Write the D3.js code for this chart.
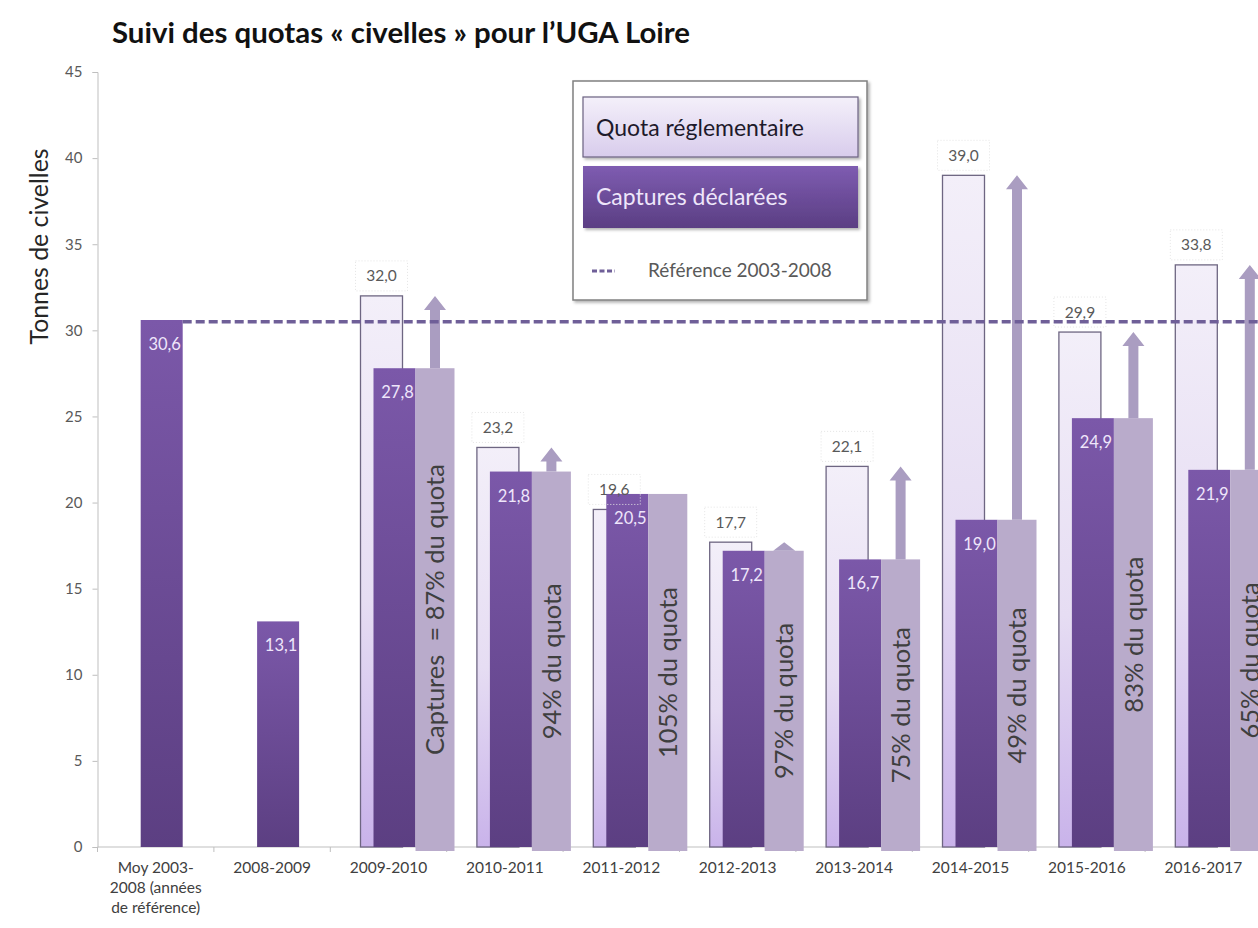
<!DOCTYPE html>
<html>
<head>
<meta charset="utf-8">
<script src="https://cdn.jsdelivr.net/npm/d3@7"></script>
<style>
  body { margin: 0; background: #ffffff; }
  svg { display: block; }
</style>
</head>
<body>
<svg id="chart" width="1258" height="928"></svg>
<script>
// Seasons shown on the x axis (the first one is the 2003-2008 reference average)
const categories = ["Moy 2003-2008 (années de référence)", "2008-2009", "2009-2010", "2010-2011",
  "2011-2012", "2012-2013", "2013-2014", "2014-2015", "2015-2016", "2016-2017"];
const categoryLines = [["Moy 2003-", "2008 (années", "de référence)"], ["2008-2009"], ["2009-2010"],
  ["2010-2011"], ["2011-2012"], ["2012-2013"], ["2013-2014"], ["2014-2015"], ["2015-2016"], ["2016-2017"]];

// Tonnes of glass eels
const quota = [null, null, 32.0, 23.2, 19.6, 17.7, 22.1, 39.0, 29.9, 33.8];
const captures = [30.6, 13.1, 27.8, 21.8, 20.5, 17.2, 16.7, 19.0, 24.9, 21.9];
const shareLabels = [null, null, "Captures  = 87% du quota", "94% du quota", "105% du quota",
  "97% du quota", "75% du quota", "49% du quota", "83% du quota", "65% du quota"];
const referenceLevel = 30.5;
const yTicks = [0, 5, 10, 15, 20, 25, 30, 35, 40, 45];

const fmt = v => v.toFixed(1).replace(".", ",");
const FONT = "Lato, 'Open Sans', sans-serif";

const svg = d3.select("#chart");
const plotLeft = 97.5, plotBottom = 847, plotTop = 72;
const step = 116.4;

const x = d3.scaleBand().domain(categories).range([plotLeft, plotLeft + step * categories.length]).padding(0);
const y = d3.scaleLinear().domain([0, 45]).range([plotBottom, plotTop]);

const barW = 42;
const quotaOffset = -7, captureOffset = 6;
const shadeW = 39;

// ---------- gradients & filters ----------
const defs = svg.append("defs");
function vGrad(id, stops) {
  const g = defs.append("linearGradient").attr("id", id)
    .attr("x1", 0).attr("y1", 0).attr("x2", 0).attr("y2", 1);
  stops.forEach(([o, c]) => g.append("stop").attr("offset", o).attr("stop-color", c));
}
vGrad("quotaFill", [[0, "#f3eff9"], [0.55, "#e6ddf3"], [1, "#c9b3ea"]]);
vGrad("captureFill", [[0, "#7b58a9"], [1, "#5c3f82"]]);
vGrad("legendQuota", [[0, "#f4f0fa"], [1, "#d8ccec"]]);
vGrad("legendCapture", [[0, "#7e5cb1"], [1, "#5b3e83"]]);
const shadow = defs.append("filter").attr("id", "shadow")
  .attr("x", "-10%").attr("y", "-10%").attr("width", "130%").attr("height", "130%");
shadow.append("feDropShadow").attr("dx", 2).attr("dy", 2).attr("stdDeviation", 1.8)
  .attr("flood-color", "#000").attr("flood-opacity", 0.3);

const idx = d3.range(categories.length);
const cx = i => x(categories[i]) + x.bandwidth() / 2;

// ---------- axes ----------
const yAxis = d3.axisLeft(y).tickValues(yTicks).tickSize(5).tickPadding(10).tickFormat(d3.format("d"));
const gy = svg.append("g").attr("transform", `translate(${plotLeft},0)`).call(yAxis);
gy.select(".domain").attr("stroke", "#bfbfbf");
gy.selectAll(".tick line").attr("stroke", "#bfbfbf");
gy.selectAll(".tick text").attr("font-family", FONT).attr("font-size", 15).attr("fill", "#595959");

svg.append("line").attr("x1", plotLeft).attr("x2", 1258).attr("y1", plotBottom).attr("y2", plotBottom)
  .attr("stroke", "#bfbfbf");
svg.append("g").selectAll("line").data(d3.range(categories.length + 1)).join("line")
  .attr("x1", i => plotLeft + step * i).attr("x2", i => plotLeft + step * i)
  .attr("y1", plotBottom).attr("y2", plotBottom + 5).attr("stroke", "#bfbfbf");

const xl = svg.append("g").attr("font-family", FONT).attr("font-size", 15.5).attr("fill", "#404040")
  .attr("text-anchor", "middle");
idx.forEach(i => {
  categoryLines[i].forEach((line, k) => {
    xl.append("text").attr("x", cx(i)).attr("y", 873 + k * 20).text(line);
  });
});

// axis title
svg.append("text")
  .attr("transform", `translate(48,${(148 + 345) / 2}) rotate(-90)`)
  .attr("text-anchor", "middle")
  .attr("font-family", FONT).attr("font-size", 25).attr("fill", "#262626")
  .attr("textLength", 196).attr("lengthAdjust", "spacingAndGlyphs")
  .text("Tonnes de civelles");

// chart title
svg.append("text").attr("x", 112).attr("y", 43)
  .attr("font-family", FONT).attr("font-weight", 700).attr("font-size", 29).attr("fill", "#111")
  .attr("textLength", 578).attr("lengthAdjust", "spacingAndGlyphs")
  .text("Suivi des quotas « civelles » pour l’UGA Loire");

// ---------- quota bars ----------
const withQuota = idx.filter(i => quota[i] != null);
svg.append("g").selectAll("rect").data(withQuota).join("rect")
  .attr("x", i => cx(i) + quotaOffset - barW / 2)
  .attr("y", i => y(quota[i]))
  .attr("width", barW)
  .attr("height", i => y(0) - y(quota[i]))
  .attr("fill", "url(#quotaFill)")
  .attr("stroke", "#6e6682").attr("stroke-width", 1.3);

// ---------- captures bars ----------
svg.append("g").selectAll("rect").data(idx).join("rect")
  .attr("x", i => cx(i) + captureOffset - barW / 2)
  .attr("y", i => y(captures[i]))
  .attr("width", barW)
  .attr("height", i => y(0) - y(captures[i]))
  .attr("fill", "url(#captureFill)");

svg.append("g").attr("font-family", FONT).attr("font-size", 16.5).attr("fill", "#efe6fb")
  .attr("text-anchor", "middle")
  .selectAll("text").data(idx).join("text")
  .attr("x", i => cx(i) + captureOffset + 3)
  .attr("y", i => y(captures[i]) + 30)
  .text(i => fmt(captures[i]));

// ---------- share-of-quota columns with arrows ----------
const withShare = idx.filter(i => shareLabels[i] != null);
const shadeX = i => cx(i) + captureOffset + barW / 2;
svg.append("g").selectAll("rect").data(withShare).join("rect")
  .attr("x", i => shadeX(i))
  .attr("y", i => y(captures[i]))
  .attr("width", shadeW)
  .attr("height", i => y(0) - y(captures[i]) + 4)
  .attr("fill", "#b9abcb");

const arrows = svg.append("g").attr("fill", "#aa9dc1");
withShare.filter(i => quota[i] > captures[i]).forEach(i => {
  const ax = shadeX(i) + shadeW / 2;
  const y0 = y(captures[i]), y1 = y(quota[i]);
  const headLen = Math.min(14, y0 - y1), half = 11, shaft = 5;
  const p = d3.path();
  if (y0 - y1 > headLen) {
    p.moveTo(ax - shaft, y0);
    p.lineTo(ax - shaft, y1 + headLen);
    p.lineTo(ax - half, y1 + headLen);
    p.lineTo(ax, y1);
    p.lineTo(ax + half, y1 + headLen);
    p.lineTo(ax + shaft, y1 + headLen);
    p.lineTo(ax + shaft, y0);
  } else {
    p.moveTo(ax - half, y0);
    p.lineTo(ax, y1);
    p.lineTo(ax + half, y0);
  }
  p.closePath();
  arrows.append("path").attr("d", p.toString());
});

svg.append("g").attr("font-family", FONT).attr("font-size", 25.5).attr("fill", "#3f3f3f")
  .attr("text-anchor", "middle")
  .selectAll("text").data(withShare).join("text")
  .attr("transform", i => `translate(${shadeX(i) + shadeW / 2},${(y(captures[i]) + y(0) + 4) / 2}) rotate(-90)`)
  .attr("dy", "0.36em")
  .style("white-space", "pre")
  .text(i => shareLabels[i]);

// ---------- quota value labels ----------
const ql = svg.append("g");
withQuota.forEach(i => {
  const lx = cx(i) + quotaOffset, ly = y(quota[i]) - 20;
  ql.append("rect").attr("x", lx - 26).attr("y", ly - 15).attr("width", 52).attr("height", 30)
    .attr("fill", "none").attr("stroke", "#e4e4e4").attr("stroke-dasharray", "1,2");
  ql.append("text").attr("x", lx).attr("y", ly + 5.5)
    .attr("text-anchor", "middle").attr("font-family", FONT).attr("font-size", 15.5)
    .attr("fill", "#595959").text(fmt(quota[i]));
});

// ---------- 2003-2008 reference level ----------
svg.append("line")
  .attr("x1", cx(0) + captureOffset + barW / 2).attr("x2", 1258)
  .attr("y1", y(referenceLevel)).attr("y2", y(referenceLevel))
  .attr("stroke", "#6f5f98").attr("stroke-width", 3.5).attr("stroke-dasharray", "9,4");

// ---------- legend ----------
const lg = svg.append("g");
lg.append("rect").attr("x", 573).attr("y", 81).attr("width", 294).attr("height", 219)
  .attr("fill", "#fff").attr("stroke", "#808080").attr("stroke-width", 1.5).attr("filter", "url(#shadow)");
lg.append("rect").attr("x", 583).attr("y", 97).attr("width", 275).attr("height", 60)
  .attr("fill", "url(#legendQuota)").attr("stroke", "#6b6180").attr("stroke-width", 1.2)
  .attr("filter", "url(#shadow)");
lg.append("text").attr("x", 596).attr("y", 136).attr("font-family", FONT).attr("font-size", 23)
  .attr("fill", "#1e1a2b").text("Quota réglementaire");
lg.append("rect").attr("x", 583).attr("y", 166).attr("width", 275).attr("height", 62)
  .attr("fill", "url(#legendCapture)").attr("filter", "url(#shadow)");
lg.append("text").attr("x", 596).attr("y", 205).attr("font-family", FONT).attr("font-size", 23)
  .attr("fill", "#eee6fa").text("Captures déclarées");
lg.append("line").attr("x1", 592).attr("x2", 615).attr("y1", 271).attr("y2", 271)
  .attr("stroke", "#6f5f98").attr("stroke-width", 3).attr("stroke-dasharray", "5,2.5");
lg.append("text").attr("x", 648).attr("y", 277).attr("font-family", FONT).attr("font-size", 19)
  .attr("fill", "#595959").text("Référence 2003-2008");
</script>
</body>
</html>
